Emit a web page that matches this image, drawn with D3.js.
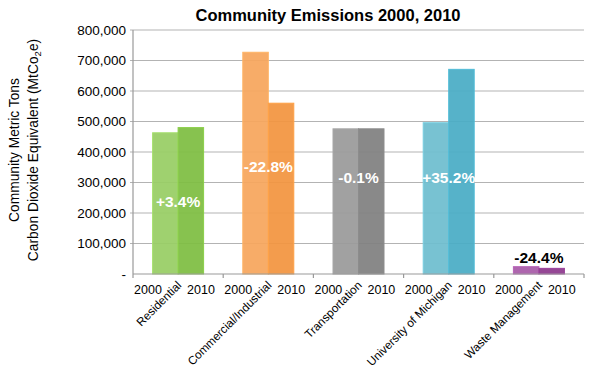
<!DOCTYPE html>
<html><head><meta charset="utf-8">
<script src="https://cdn.jsdelivr.net/npm/d3@7"></script>
<style>body{margin:0;background:#fff}svg{display:block;font-family:"Liberation Sans",Arial,sans-serif}</style>
</head><body><svg id="c" width="590" height="369"></svg>
<script>
const categories = ["Residential","Commercial/Industrial","Transportation","University of Michigan","Waste Management"];
const years = ["2000","2010"];
const values2000 = [463000, 727000, 476000, 496000, 24000];
const values2010 = [480000, 560000, 476000, 671000, 18500];
const changeLabels = ["+3.4%","-22.8%","-0.1%","+35.2%","-24.4%"];
const yTicks = [0,100000,200000,300000,400000,500000,600000,700000,800000];
const colors2000 = ["#98cd64","#f6a65c","#9a9a9a","#6ebdcf","#a85aa8"];
const colors2010 = ["#7ebd42","#f29440","#808080","#49acc5","#8d398d"];

const svg = d3.select("#c");
const m = {l:133, r:6, t:30, b:95};
const W = 590, H = 369;
const x = d3.scaleBand().domain(categories).range([m.l, W-m.r]).paddingInner(0).paddingOuter(0);
const y = d3.scaleLinear().domain([0,800000]).range([H-m.b, m.t]);
const fmt = d3.format(",");

// gridlines
svg.append("g").selectAll("line").data(yTicks.slice(1)).join("line")
  .attr("x1", m.l-3).attr("x2", W-m.r).attr("y1", d=>y(d)).attr("y2", d=>y(d))
  .attr("stroke","#b3b3b3").attr("stroke-width",1.2);

// y axis labels
svg.append("g").selectAll("text").data(yTicks).join("text")
  .attr("x", m.l-7).attr("y", d=>y(d)).attr("dy","0.35em").attr("text-anchor","end")
  .attr("font-size",13.5).attr("fill","#000").text(d=> d===0 ? "-" : fmt(d));

// bars
const groupW = 51;
const sub = d3.scaleBand().domain(years).range([0, groupW]);
const g = svg.append("g");
categories.forEach((c,i)=>{
  const gx = x(c) + (x.bandwidth()-groupW)/2;
  const vals = [values2000[i], values2010[i]];
  const cols = [colors2000[i], colors2010[i]];
  years.forEach((yr,j)=>{
    g.append("rect").attr("x", gx+sub(yr)).attr("width", sub.bandwidth())
      .attr("y", y(vals[j])).attr("height", y(0)-y(vals[j]))
      .attr("fill", cols[j]).attr("fill-opacity",0.93)
      .attr("stroke", d3.color(cols[j]).brighter(0.25)).attr("stroke-width",1);
  });
});

// axes lines
svg.append("line").attr("x1",m.l).attr("x2",m.l).attr("y1",y(800000)).attr("y2",y(0)).attr("stroke","#999").attr("stroke-width",1.2);
svg.append("line").attr("x1",m.l).attr("x2",W-m.r).attr("y1",y(0)).attr("y2",y(0)).attr("stroke","#999").attr("stroke-width",1.2);
const bounds = categories.map(c=>x(c)).concat([W-m.r]);
svg.append("g").selectAll("line").data(bounds).join("line")
  .attr("x1",d=>d).attr("x2",d=>d).attr("y1",y(0)).attr("y2",y(0)+4).attr("stroke","#999").attr("stroke-width",1.2);

// year labels
categories.forEach((c,i)=>{
  svg.append("text").attr("x", x(c)+15).attr("y", y(0)+20).attr("text-anchor","middle").attr("font-size",12.5).text(years[0]);
  svg.append("text").attr("x", x(c)+68).attr("y", y(0)+20).attr("text-anchor","middle").attr("font-size",12.5).text(years[1]);
});

// category labels rotated
svg.append("g").selectAll("text").data(categories).join("text")
  .attr("transform", d=>`translate(${x(d)+x.bandwidth()/2+4},${y(0)+12}) rotate(-45)`)
  .attr("text-anchor","end").attr("font-size",11.7).text(d=>d);

// change labels
const labelY = [202, 167, 178, 178, 258];
categories.forEach((c,i)=>{
  svg.append("text").attr("x", x(c)+x.bandwidth()/2).attr("y", labelY[i]).attr("dy","0.35em")
    .attr("text-anchor","middle").attr("font-size",15.5).attr("font-weight","bold")
    .attr("fill", i===4 ? "#000" : "#fff").text(changeLabels[i]);
});

// title
svg.append("text").attr("x", 328).attr("y", 21).attr("text-anchor","middle")
  .attr("font-size",16.5).attr("font-weight","bold").text("Community Emissions 2000, 2010");

// y axis title
const yt = svg.append("text").attr("transform","translate(0,150) rotate(-90)").attr("text-anchor","middle").attr("font-size",13.8);
yt.append("tspan").attr("x",0).attr("y",19).text("Community Metric Tons");
yt.append("tspan").attr("x",0).attr("y",38).text("Carbon Dioxide Equivalent (MtCo");
yt.append("tspan").attr("font-size",9.5).attr("dy",3).text("2");
yt.append("tspan").attr("dy",-3).text("e)");
</script></body></html>
